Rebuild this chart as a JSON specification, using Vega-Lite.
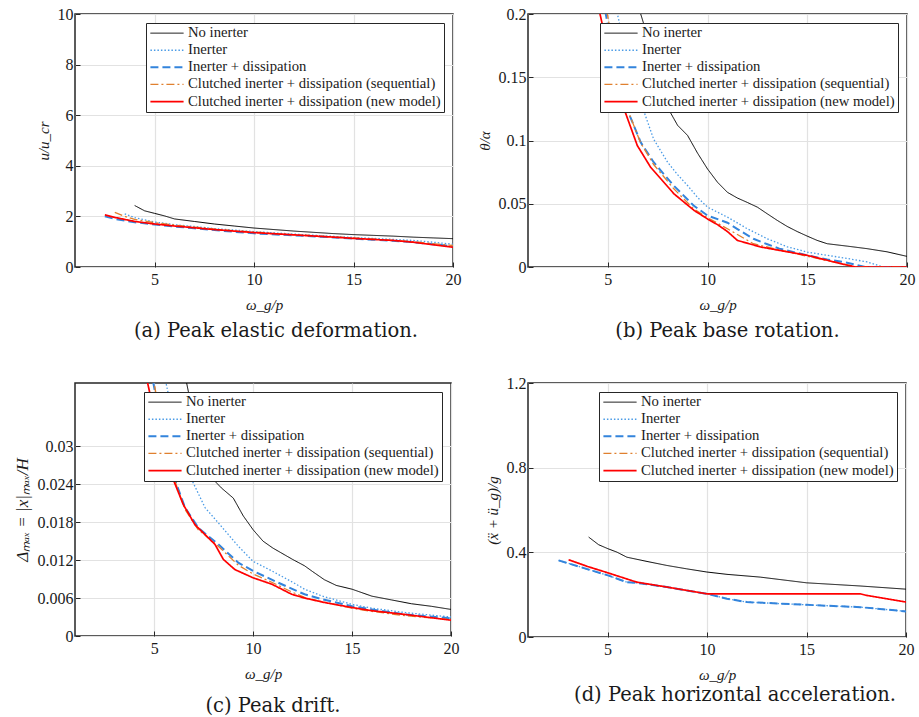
{
  "$schema": "https://vega.github.io/schema/vega-lite/v6.json",
  "background": "white",
  "padding": {"left": 12, "top": 5, "right": 5, "bottom": 0},
  "columns": 2,
  "spacing": {"column": 14, "row": 32},
  "config": {
    "font": "Liberation Serif",
    "view": {"stroke": "#262626", "strokeWidth": 1.5},
    "axis": {
      "domain": false,
      "ticks": true,
      "tickSize": -5,
      "tickColor": "#262626",
      "tickWidth": 1,
      "labelFont": "Liberation Serif",
      "labelFontSize": 16,
      "labelColor": "#1a1a1a",
      "labelFlush": false,
      "titleFont": "Liberation Serif",
      "titleFontSize": 15,
      "titleFontStyle": "italic",
      "titleFontWeight": "normal",
      "titleColor": "#1a1a1a",
      "gridColor": "#e2e2e2",
      "gridWidth": 1.2
    },
    "axisX": {"labelPadding": 9, "titlePadding": 10},
    "axisY": {"labelPadding": 7, "titlePadding": 6},
    "legend": {
      "orient": "top-right",
      "offset": 9,
      "fillColor": "white",
      "strokeColor": "#262626",
      "padding": 3,
      "rowPadding": 1.1,
      "clipHeight": 14.3,
      "labelFont": "Liberation Serif",
      "labelFontSize": 14.7,
      "labelColor": "#1a1a1a",
      "labelLimit": 500,
      "labelOffset": 3,
      "symbolType": "stroke",
      "symbolSize": 1100
    },
    "title": {
      "font": "DejaVu Serif",
      "fontSize": 19.5,
      "fontWeight": "normal",
      "color": "#1a1a1a",
      "orient": "bottom",
      "anchor": "middle",
      "offset": 10
    }
  },
  "resolve": {"scale": {"color": "independent", "strokeDash": "independent", "strokeWidth": "independent"}},
  "concat": [
    {
      "width": 378, "height": 253,
      "title": {"text": "(a) Peak elastic deformation.", "dx": 12},
      "data": {"values": [
        {"s":"No inerter","w":4,"v":2.43},{"s":"No inerter","w":4.5,"v":2.22},{"s":"No inerter","w":5,"v":2.12},{"s":"No inerter","w":5.5,"v":2.02},{"s":"No inerter","w":6,"v":1.9},{"s":"No inerter","w":7,"v":1.8},{"s":"No inerter","w":8,"v":1.7},{"s":"No inerter","w":9,"v":1.62},{"s":"No inerter","w":10,"v":1.54},{"s":"No inerter","w":11,"v":1.48},{"s":"No inerter","w":12,"v":1.42},{"s":"No inerter","w":13,"v":1.37},{"s":"No inerter","w":14,"v":1.32},{"s":"No inerter","w":15,"v":1.28},{"s":"No inerter","w":16,"v":1.25},{"s":"No inerter","w":17,"v":1.22},{"s":"No inerter","w":18,"v":1.18},{"s":"No inerter","w":19,"v":1.15},{"s":"No inerter","w":20,"v":1.12},
        {"s":"Inerter","w":3.5,"v":2.1},{"s":"Inerter","w":4,"v":1.95},{"s":"Inerter","w":5,"v":1.78},{"s":"Inerter","w":6,"v":1.67},{"s":"Inerter","w":7,"v":1.6},{"s":"Inerter","w":8,"v":1.52},{"s":"Inerter","w":9,"v":1.46},{"s":"Inerter","w":10,"v":1.4},{"s":"Inerter","w":12,"v":1.3},{"s":"Inerter","w":14,"v":1.21},{"s":"Inerter","w":15,"v":1.17},{"s":"Inerter","w":16,"v":1.13},{"s":"Inerter","w":18,"v":1.05},{"s":"Inerter","w":19,"v":0.98},{"s":"Inerter","w":20,"v":0.9},
        {"s":"Inerter + dissipation","w":2.5,"v":2.0},{"s":"Inerter + dissipation","w":3,"v":1.9},{"s":"Inerter + dissipation","w":4,"v":1.77},{"s":"Inerter + dissipation","w":5,"v":1.68},{"s":"Inerter + dissipation","w":6,"v":1.6},{"s":"Inerter + dissipation","w":7,"v":1.53},{"s":"Inerter + dissipation","w":8,"v":1.46},{"s":"Inerter + dissipation","w":9,"v":1.39},{"s":"Inerter + dissipation","w":10,"v":1.33},{"s":"Inerter + dissipation","w":12,"v":1.25},{"s":"Inerter + dissipation","w":14,"v":1.17},{"s":"Inerter + dissipation","w":15,"v":1.12},{"s":"Inerter + dissipation","w":16,"v":1.08},{"s":"Inerter + dissipation","w":18,"v":0.98},{"s":"Inerter + dissipation","w":20,"v":0.82},
        {"s":"Clutched inerter + dissipation (sequential)","w":3,"v":2.16},{"s":"Clutched inerter + dissipation (sequential)","w":3.5,"v":2.0},{"s":"Clutched inerter + dissipation (sequential)","w":4,"v":1.88},{"s":"Clutched inerter + dissipation (sequential)","w":5,"v":1.75},{"s":"Clutched inerter + dissipation (sequential)","w":6,"v":1.66},{"s":"Clutched inerter + dissipation (sequential)","w":7,"v":1.58},{"s":"Clutched inerter + dissipation (sequential)","w":8,"v":1.5},{"s":"Clutched inerter + dissipation (sequential)","w":9,"v":1.43},{"s":"Clutched inerter + dissipation (sequential)","w":10,"v":1.38},{"s":"Clutched inerter + dissipation (sequential)","w":12,"v":1.28},{"s":"Clutched inerter + dissipation (sequential)","w":14,"v":1.19},{"s":"Clutched inerter + dissipation (sequential)","w":15,"v":1.15},{"s":"Clutched inerter + dissipation (sequential)","w":16,"v":1.1},{"s":"Clutched inerter + dissipation (sequential)","w":18,"v":1.0},{"s":"Clutched inerter + dissipation (sequential)","w":20,"v":0.85},
        {"s":"Clutched inerter + dissipation (new model)","w":2.5,"v":2.06},{"s":"Clutched inerter + dissipation (new model)","w":3,"v":1.96},{"s":"Clutched inerter + dissipation (new model)","w":4,"v":1.8},{"s":"Clutched inerter + dissipation (new model)","w":5,"v":1.7},{"s":"Clutched inerter + dissipation (new model)","w":6,"v":1.62},{"s":"Clutched inerter + dissipation (new model)","w":7,"v":1.55},{"s":"Clutched inerter + dissipation (new model)","w":8,"v":1.48},{"s":"Clutched inerter + dissipation (new model)","w":9,"v":1.42},{"s":"Clutched inerter + dissipation (new model)","w":10,"v":1.36},{"s":"Clutched inerter + dissipation (new model)","w":12,"v":1.27},{"s":"Clutched inerter + dissipation (new model)","w":14,"v":1.18},{"s":"Clutched inerter + dissipation (new model)","w":15,"v":1.13},{"s":"Clutched inerter + dissipation (new model)","w":16,"v":1.09},{"s":"Clutched inerter + dissipation (new model)","w":17,"v":1.05},{"s":"Clutched inerter + dissipation (new model)","w":18,"v":0.98},{"s":"Clutched inerter + dissipation (new model)","w":19,"v":0.88},{"s":"Clutched inerter + dissipation (new model)","w":20,"v":0.78}
      ]},
      "mark": {"type": "line", "clip": true},
      "encoding": {
        "x": {"field": "w", "type": "quantitative", "scale": {"domain": [1, 20], "nice": false, "zero": false}, "axis": {"values": [5, 10, 15, 20], "title": "ω_g/p"}},
        "y": {"field": "v", "type": "quantitative", "scale": {"domain": [0, 10], "nice": false}, "axis": {"values": [0, 2, 4, 6, 8, 10], "title": "u/u_cr"}},
        "color": {"field": "s", "type": "nominal", "title": null, "scale": {"domain": ["No inerter","Inerter","Inerter + dissipation","Clutched inerter + dissipation (sequential)","Clutched inerter + dissipation (new model)"], "range": ["#000000","#4a9be6","#3384dc","#e0802f","#ff0000"]}},
        "strokeDash": {"field": "s", "type": "nominal", "title": null, "scale": {"domain": ["No inerter","Inerter","Inerter + dissipation","Clutched inerter + dissipation (sequential)","Clutched inerter + dissipation (new model)"], "range": [[1,0],[1.5,2],[8,4],[8,3,2,3],[1,0]]}},
        "strokeWidth": {"field": "s", "type": "nominal", "title": null, "scale": {"type": "ordinal", "domain": ["No inerter","Inerter","Inerter + dissipation","Clutched inerter + dissipation (sequential)","Clutched inerter + dissipation (new model)"], "range": [1, 1.3, 2, 1.3, 1.7]}}
      }
    },
    {
      "width": 379, "height": 253,
      "title": {"text": "(b) Peak base rotation.", "dx": 10},
      "data": {"values": [
        {"s":"No inerter","w":6,"v":0.235},{"s":"No inerter","w":6.65,"v":0.2},{"s":"No inerter","w":7,"v":0.182},{"s":"No inerter","w":7.5,"v":0.152},{"s":"No inerter","w":8,"v":0.126},{"s":"No inerter","w":8.5,"v":0.112},{"s":"No inerter","w":9,"v":0.104},{"s":"No inerter","w":9.5,"v":0.09},{"s":"No inerter","w":10,"v":0.0775},{"s":"No inerter","w":10.5,"v":0.067},{"s":"No inerter","w":11,"v":0.059},{"s":"No inerter","w":11.5,"v":0.0545},{"s":"No inerter","w":12,"v":0.051},{"s":"No inerter","w":12.5,"v":0.0473},{"s":"No inerter","w":13,"v":0.042},{"s":"No inerter","w":13.5,"v":0.0368},{"s":"No inerter","w":14,"v":0.032},{"s":"No inerter","w":14.5,"v":0.028},{"s":"No inerter","w":15,"v":0.0244},{"s":"No inerter","w":15.5,"v":0.021},{"s":"No inerter","w":16,"v":0.0184},{"s":"No inerter","w":17,"v":0.0165},{"s":"No inerter","w":18,"v":0.0145},{"s":"No inerter","w":19,"v":0.012},{"s":"No inerter","w":20,"v":0.0084},
        {"s":"Inerter","w":5,"v":0.245},{"s":"Inerter","w":5.48,"v":0.2},{"s":"Inerter","w":6,"v":0.165},{"s":"Inerter","w":6.5,"v":0.138},{"s":"Inerter","w":6.8,"v":0.1235},{"s":"Inerter","w":7.3,"v":0.101},{"s":"Inerter","w":8,"v":0.0828},{"s":"Inerter","w":8.5,"v":0.073},{"s":"Inerter","w":9,"v":0.0644},{"s":"Inerter","w":9.5,"v":0.055},{"s":"Inerter","w":10,"v":0.0473},{"s":"Inerter","w":11,"v":0.0394},{"s":"Inerter","w":12,"v":0.0302},{"s":"Inerter","w":13,"v":0.0223},{"s":"Inerter","w":14,"v":0.016},{"s":"Inerter","w":15,"v":0.0118},{"s":"Inerter","w":16,"v":0.0092},{"s":"Inerter","w":17,"v":0.0068},{"s":"Inerter","w":18,"v":0.004},{"s":"Inerter","w":18.8,"v":0.0},{"s":"Inerter","w":19.2,"v":0.0},
        {"s":"Inerter + dissipation","w":4.5,"v":0.24},{"s":"Inerter + dissipation","w":4.9,"v":0.2},{"s":"Inerter + dissipation","w":5.5,"v":0.15},{"s":"Inerter + dissipation","w":6,"v":0.1235},{"s":"Inerter + dissipation","w":6.65,"v":0.0986},{"s":"Inerter + dissipation","w":7.3,"v":0.0828},{"s":"Inerter + dissipation","w":8.3,"v":0.0644},{"s":"Inerter + dissipation","w":9.3,"v":0.0486},{"s":"Inerter + dissipation","w":10,"v":0.0407},{"s":"Inerter + dissipation","w":11,"v":0.035},{"s":"Inerter + dissipation","w":11.5,"v":0.03},{"s":"Inerter + dissipation","w":12.3,"v":0.0223},{"s":"Inerter + dissipation","w":13,"v":0.018},{"s":"Inerter + dissipation","w":13.6,"v":0.0145},{"s":"Inerter + dissipation","w":15,"v":0.0092},{"s":"Inerter + dissipation","w":16,"v":0.006},{"s":"Inerter + dissipation","w":16.85,"v":0.0039},{"s":"Inerter + dissipation","w":17.9,"v":0.0},{"s":"Inerter + dissipation","w":20,"v":0.0},
        {"s":"Clutched inerter + dissipation (sequential)","w":4.6,"v":0.24},{"s":"Clutched inerter + dissipation (sequential)","w":4.98,"v":0.2},{"s":"Clutched inerter + dissipation (sequential)","w":5.5,"v":0.152},{"s":"Clutched inerter + dissipation (sequential)","w":6,"v":0.124},{"s":"Clutched inerter + dissipation (sequential)","w":6.65,"v":0.098},{"s":"Clutched inerter + dissipation (sequential)","w":7.3,"v":0.081},{"s":"Clutched inerter + dissipation (sequential)","w":8.3,"v":0.062},{"s":"Clutched inerter + dissipation (sequential)","w":9.3,"v":0.046},{"s":"Clutched inerter + dissipation (sequential)","w":10,"v":0.039},{"s":"Clutched inerter + dissipation (sequential)","w":11,"v":0.0302},{"s":"Clutched inerter + dissipation (sequential)","w":12.3,"v":0.0184},{"s":"Clutched inerter + dissipation (sequential)","w":13.6,"v":0.0135},{"s":"Clutched inerter + dissipation (sequential)","w":15,"v":0.0085},{"s":"Clutched inerter + dissipation (sequential)","w":16,"v":0.005},{"s":"Clutched inerter + dissipation (sequential)","w":17.5,"v":0.0},{"s":"Clutched inerter + dissipation (sequential)","w":20,"v":0.0},
        {"s":"Clutched inerter + dissipation (new model)","w":4.2,"v":0.24},{"s":"Clutched inerter + dissipation (new model)","w":4.61,"v":0.2},{"s":"Clutched inerter + dissipation (new model)","w":5.2,"v":0.158},{"s":"Clutched inerter + dissipation (new model)","w":5.82,"v":0.1248},{"s":"Clutched inerter + dissipation (new model)","w":6.48,"v":0.096},{"s":"Clutched inerter + dissipation (new model)","w":7.15,"v":0.0788},{"s":"Clutched inerter + dissipation (new model)","w":8.32,"v":0.0578},{"s":"Clutched inerter + dissipation (new model)","w":9.33,"v":0.0447},{"s":"Clutched inerter + dissipation (new model)","w":10,"v":0.038},{"s":"Clutched inerter + dissipation (new model)","w":10.5,"v":0.0335},{"s":"Clutched inerter + dissipation (new model)","w":11,"v":0.028},{"s":"Clutched inerter + dissipation (new model)","w":11.5,"v":0.021},{"s":"Clutched inerter + dissipation (new model)","w":12.67,"v":0.0158},{"s":"Clutched inerter + dissipation (new model)","w":15,"v":0.0092},{"s":"Clutched inerter + dissipation (new model)","w":16.7,"v":0.0026},{"s":"Clutched inerter + dissipation (new model)","w":17.4,"v":0.0},{"s":"Clutched inerter + dissipation (new model)","w":20,"v":0.0}
      ]},
      "mark": {"type": "line", "clip": true},
      "encoding": {
        "x": {"field": "w", "type": "quantitative", "scale": {"domain": [1, 20], "nice": false, "zero": false}, "axis": {"values": [5, 10, 15, 20], "title": "ω_g/p"}},
        "y": {"field": "v", "type": "quantitative", "scale": {"domain": [0, 0.2], "nice": false}, "axis": {"values": [0, 0.05, 0.1, 0.15, 0.2], "format": "~g", "title": "θ/α"}},
        "color": {"field": "s", "type": "nominal", "title": null, "scale": {"domain": ["No inerter","Inerter","Inerter + dissipation","Clutched inerter + dissipation (sequential)","Clutched inerter + dissipation (new model)"], "range": ["#000000","#4a9be6","#3384dc","#e0802f","#ff0000"]}},
        "strokeDash": {"field": "s", "type": "nominal", "title": null, "scale": {"domain": ["No inerter","Inerter","Inerter + dissipation","Clutched inerter + dissipation (sequential)","Clutched inerter + dissipation (new model)"], "range": [[1,0],[1.5,2],[8,4],[8,3,2,3],[1,0]]}},
        "strokeWidth": {"field": "s", "type": "nominal", "title": null, "scale": {"type": "ordinal", "domain": ["No inerter","Inerter","Inerter + dissipation","Clutched inerter + dissipation (sequential)","Clutched inerter + dissipation (new model)"], "range": [1, 1.3, 2, 1.3, 1.7]}}
      }
    },
    {
      "width": 376, "height": 253,
      "title": {"text": "(c) Peak drift.", "dx": 10, "offset": 16},
      "data": {"values": [
        {"s":"No inerter","w":6.3,"v":0.043},{"s":"No inerter","w":6.64,"v":0.04},{"s":"No inerter","w":7,"v":0.0345},{"s":"No inerter","w":7.5,"v":0.029},{"s":"No inerter","w":8,"v":0.0247},{"s":"No inerter","w":8.4,"v":0.0234},{"s":"No inerter","w":9,"v":0.0218},{"s":"No inerter","w":9.5,"v":0.019},{"s":"No inerter","w":10,"v":0.0168},{"s":"No inerter","w":10.5,"v":0.015},{"s":"No inerter","w":11,"v":0.0139},{"s":"No inerter","w":12,"v":0.0121},{"s":"No inerter","w":12.6,"v":0.0111},{"s":"No inerter","w":13,"v":0.0102},{"s":"No inerter","w":13.6,"v":0.0089},{"s":"No inerter","w":14.2,"v":0.008},{"s":"No inerter","w":15,"v":0.0074},{"s":"No inerter","w":16,"v":0.0063},{"s":"No inerter","w":17,"v":0.0057},{"s":"No inerter","w":18,"v":0.0051},{"s":"No inerter","w":19,"v":0.0047},{"s":"No inerter","w":20,"v":0.0042},
        {"s":"Inerter","w":5.3,"v":0.043},{"s":"Inerter","w":5.6,"v":0.04},{"s":"Inerter","w":6.2,"v":0.031},{"s":"Inerter","w":6.9,"v":0.0247},{"s":"Inerter","w":7.57,"v":0.0203},{"s":"Inerter","w":8.24,"v":0.0179},{"s":"Inerter","w":9.25,"v":0.0142},{"s":"Inerter","w":10,"v":0.0118},{"s":"Inerter","w":10.94,"v":0.0103},{"s":"Inerter","w":12,"v":0.0085},{"s":"Inerter","w":12.6,"v":0.0074},{"s":"Inerter","w":13.5,"v":0.0063},{"s":"Inerter","w":15,"v":0.005},{"s":"Inerter","w":16,"v":0.0044},{"s":"Inerter","w":17.7,"v":0.0037},{"s":"Inerter","w":20,"v":0.003},
        {"s":"Inerter + dissipation","w":4.8,"v":0.042},{"s":"Inerter + dissipation","w":4.96,"v":0.04},{"s":"Inerter + dissipation","w":5.5,"v":0.031},{"s":"Inerter + dissipation","w":6.05,"v":0.0247},{"s":"Inerter + dissipation","w":6.56,"v":0.0203},{"s":"Inerter + dissipation","w":7.23,"v":0.0171},{"s":"Inerter + dissipation","w":8.24,"v":0.0145},{"s":"Inerter + dissipation","w":9.25,"v":0.0116},{"s":"Inerter + dissipation","w":10,"v":0.0103},{"s":"Inerter + dissipation","w":10.94,"v":0.0089},{"s":"Inerter + dissipation","w":12,"v":0.0074},{"s":"Inerter + dissipation","w":12.6,"v":0.0066},{"s":"Inerter + dissipation","w":13.5,"v":0.0058},{"s":"Inerter + dissipation","w":15,"v":0.0047},{"s":"Inerter + dissipation","w":16,"v":0.0042},{"s":"Inerter + dissipation","w":17.7,"v":0.0034},{"s":"Inerter + dissipation","w":20,"v":0.0028},
        {"s":"Clutched inerter + dissipation (sequential)","w":4.85,"v":0.042},{"s":"Clutched inerter + dissipation (sequential)","w":5.0,"v":0.04},{"s":"Clutched inerter + dissipation (sequential)","w":5.5,"v":0.031},{"s":"Clutched inerter + dissipation (sequential)","w":6.05,"v":0.0245},{"s":"Clutched inerter + dissipation (sequential)","w":6.56,"v":0.02},{"s":"Clutched inerter + dissipation (sequential)","w":7.23,"v":0.0168},{"s":"Clutched inerter + dissipation (sequential)","w":8.24,"v":0.0142},{"s":"Clutched inerter + dissipation (sequential)","w":9.25,"v":0.0112},{"s":"Clutched inerter + dissipation (sequential)","w":10,"v":0.0098},{"s":"Clutched inerter + dissipation (sequential)","w":10.94,"v":0.0085},{"s":"Clutched inerter + dissipation (sequential)","w":12,"v":0.0069},{"s":"Clutched inerter + dissipation (sequential)","w":12.6,"v":0.0061},{"s":"Clutched inerter + dissipation (sequential)","w":13.5,"v":0.0054},{"s":"Clutched inerter + dissipation (sequential)","w":15,"v":0.0044},{"s":"Clutched inerter + dissipation (sequential)","w":16,"v":0.0039},{"s":"Clutched inerter + dissipation (sequential)","w":17.7,"v":0.0032},{"s":"Clutched inerter + dissipation (sequential)","w":20,"v":0.0026},
        {"s":"Clutched inerter + dissipation (new model)","w":4.5,"v":0.042},{"s":"Clutched inerter + dissipation (new model)","w":4.67,"v":0.04},{"s":"Clutched inerter + dissipation (new model)","w":5.3,"v":0.031},{"s":"Clutched inerter + dissipation (new model)","w":5.97,"v":0.0247},{"s":"Clutched inerter + dissipation (new model)","w":6.47,"v":0.0208},{"s":"Clutched inerter + dissipation (new model)","w":7.06,"v":0.0176},{"s":"Clutched inerter + dissipation (new model)","w":8.07,"v":0.0145},{"s":"Clutched inerter + dissipation (new model)","w":8.5,"v":0.0121},{"s":"Clutched inerter + dissipation (new model)","w":9.08,"v":0.0105},{"s":"Clutched inerter + dissipation (new model)","w":10,"v":0.0092},{"s":"Clutched inerter + dissipation (new model)","w":10.94,"v":0.0082},{"s":"Clutched inerter + dissipation (new model)","w":11.95,"v":0.0066},{"s":"Clutched inerter + dissipation (new model)","w":12.6,"v":0.006},{"s":"Clutched inerter + dissipation (new model)","w":13.6,"v":0.0053},{"s":"Clutched inerter + dissipation (new model)","w":15,"v":0.0045},{"s":"Clutched inerter + dissipation (new model)","w":16,"v":0.004},{"s":"Clutched inerter + dissipation (new model)","w":17.7,"v":0.0034},{"s":"Clutched inerter + dissipation (new model)","w":20,"v":0.0025}
      ]},
      "mark": {"type": "line", "clip": true},
      "encoding": {
        "x": {"field": "w", "type": "quantitative", "scale": {"domain": [1, 20], "nice": false, "zero": false}, "axis": {"values": [5, 10, 15, 20], "title": "ω_g/p"}},
        "y": {"field": "v", "type": "quantitative", "scale": {"domain": [0, 0.04], "nice": false}, "axis": {"values": [0, 0.006, 0.012, 0.018, 0.024, 0.03], "format": "~g", "title": "Δₘₐₓ = |x|ₘₐₓ/H", "titleFontSize": 17}},
        "color": {"field": "s", "type": "nominal", "title": null, "scale": {"domain": ["No inerter","Inerter","Inerter + dissipation","Clutched inerter + dissipation (sequential)","Clutched inerter + dissipation (new model)"], "range": ["#000000","#4a9be6","#3384dc","#e0802f","#ff0000"]}},
        "strokeDash": {"field": "s", "type": "nominal", "title": null, "scale": {"domain": ["No inerter","Inerter","Inerter + dissipation","Clutched inerter + dissipation (sequential)","Clutched inerter + dissipation (new model)"], "range": [[1,0],[1.5,2],[8,4],[8,3,2,3],[1,0]]}},
        "strokeWidth": {"field": "s", "type": "nominal", "title": null, "scale": {"type": "ordinal", "domain": ["No inerter","Inerter","Inerter + dissipation","Clutched inerter + dissipation (sequential)","Clutched inerter + dissipation (new model)"], "range": [1, 1.3, 2, 1.3, 1.7]}}
      }
    },
    {
      "width": 378, "height": 254,
      "title": {"text": "(d) Peak horizontal acceleration.", "dx": 18, "offset": 4},
      "data": {"values": [
        {"s":"No inerter","w":4.05,"v":0.472},{"s":"No inerter","w":4.55,"v":0.436},{"s":"No inerter","w":5.02,"v":0.417},{"s":"No inerter","w":5.47,"v":0.401},{"s":"No inerter","w":5.97,"v":0.377},{"s":"No inerter","w":6.98,"v":0.357},{"s":"No inerter","w":7.98,"v":0.338},{"s":"No inerter","w":8.98,"v":0.322},{"s":"No inerter","w":9.99,"v":0.307},{"s":"No inerter","w":11,"v":0.296},{"s":"No inerter","w":12.67,"v":0.283},{"s":"No inerter","w":15,"v":0.256},{"s":"No inerter","w":17.7,"v":0.241},{"s":"No inerter","w":20,"v":0.226},
        {"s":"Inerter","w":2.54,"v":0.362},{"s":"Inerter","w":5.02,"v":0.291},{"s":"Inerter","w":5.97,"v":0.259},{"s":"Inerter","w":6.47,"v":0.256},{"s":"Inerter","w":7.98,"v":0.236},{"s":"Inerter","w":9.99,"v":0.204},{"s":"Inerter","w":11,"v":0.181},{"s":"Inerter","w":12,"v":0.165},{"s":"Inerter","w":15,"v":0.152},{"s":"Inerter","w":17.7,"v":0.141},{"s":"Inerter","w":20,"v":0.121},
        {"s":"Inerter + dissipation","w":2.54,"v":0.362},{"s":"Inerter + dissipation","w":5.02,"v":0.291},{"s":"Inerter + dissipation","w":5.97,"v":0.259},{"s":"Inerter + dissipation","w":6.47,"v":0.256},{"s":"Inerter + dissipation","w":7.98,"v":0.236},{"s":"Inerter + dissipation","w":9.99,"v":0.204},{"s":"Inerter + dissipation","w":11,"v":0.181},{"s":"Inerter + dissipation","w":12,"v":0.165},{"s":"Inerter + dissipation","w":15,"v":0.152},{"s":"Inerter + dissipation","w":17.7,"v":0.141},{"s":"Inerter + dissipation","w":20,"v":0.121},
        {"s":"Clutched inerter + dissipation (new model)","w":3.04,"v":0.365},{"s":"Clutched inerter + dissipation (new model)","w":4,"v":0.333},{"s":"Clutched inerter + dissipation (new model)","w":5.02,"v":0.303},{"s":"Clutched inerter + dissipation (new model)","w":6.47,"v":0.259},{"s":"Clutched inerter + dissipation (new model)","w":7.98,"v":0.236},{"s":"Clutched inerter + dissipation (new model)","w":10,"v":0.204},{"s":"Clutched inerter + dissipation (new model)","w":12,"v":0.204},{"s":"Clutched inerter + dissipation (new model)","w":15,"v":0.204},{"s":"Clutched inerter + dissipation (new model)","w":17.7,"v":0.204},{"s":"Clutched inerter + dissipation (new model)","w":18,"v":0.197},{"s":"Clutched inerter + dissipation (new model)","w":20,"v":0.165}
      ]},
      "mark": {"type": "line", "clip": true},
      "encoding": {
        "x": {"field": "w", "type": "quantitative", "scale": {"domain": [1, 20], "nice": false, "zero": false}, "axis": {"values": [5, 10, 15, 20], "title": "ω_g/p"}},
        "y": {"field": "v", "type": "quantitative", "scale": {"domain": [0, 1.2], "nice": false}, "axis": {"values": [0, 0.4, 0.8, 1.2], "format": "~g", "title": "(ẍ + ü_g)/g"}},
        "color": {"field": "s", "type": "nominal", "title": null, "scale": {"domain": ["No inerter","Inerter","Inerter + dissipation","Clutched inerter + dissipation (sequential)","Clutched inerter + dissipation (new model)"], "range": ["#000000","#4a9be6","#3384dc","#e0802f","#ff0000"]}},
        "strokeDash": {"field": "s", "type": "nominal", "title": null, "scale": {"domain": ["No inerter","Inerter","Inerter + dissipation","Clutched inerter + dissipation (sequential)","Clutched inerter + dissipation (new model)"], "range": [[1,0],[1.5,2],[8,4],[8,3,2,3],[1,0]]}},
        "strokeWidth": {"field": "s", "type": "nominal", "title": null, "scale": {"type": "ordinal", "domain": ["No inerter","Inerter","Inerter + dissipation","Clutched inerter + dissipation (sequential)","Clutched inerter + dissipation (new model)"], "range": [1, 1.3, 2, 1.3, 1.7]}}
      }
    }
  ]
}
